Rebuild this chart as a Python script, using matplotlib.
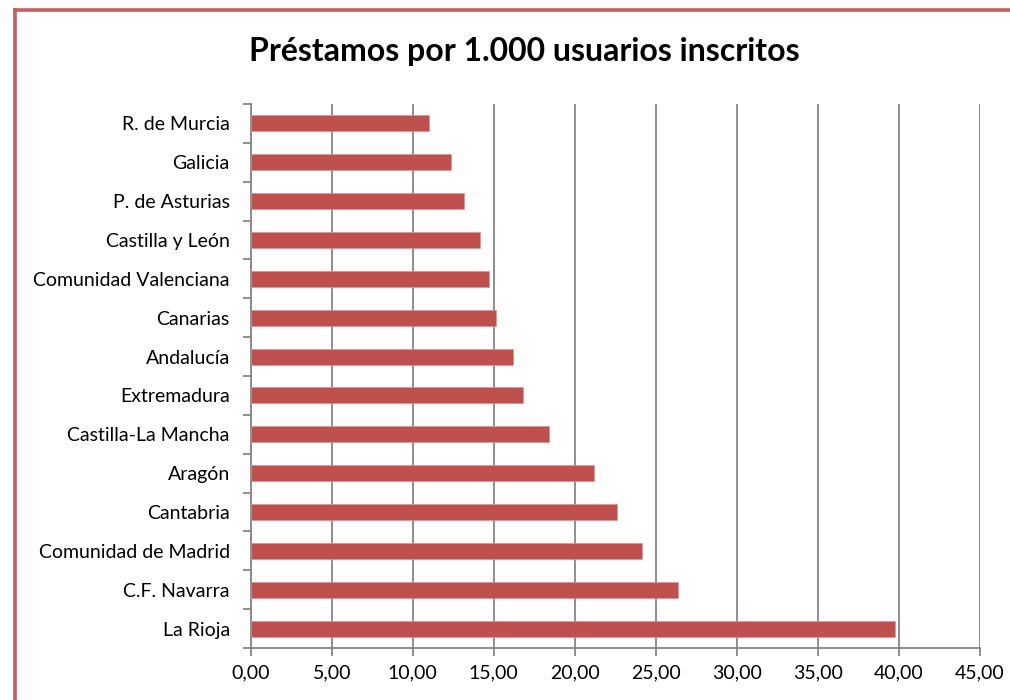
import matplotlib.pyplot as plt
from matplotlib.lines import Line2D
from matplotlib.ticker import FuncFormatter, MultipleLocator
import numpy as np

plt.rcParams['font.family'] = ['Lato', 'DejaVu Sans']

# Data (top to bottom as in the chart)
regiones = ['R. de Murcia', 'Galicia', 'P. de Asturias', 'Castilla y León',
            'Comunidad Valenciana', 'Canarias', 'Andalucía', 'Extremadura',
            'Castilla-La Mancha', 'Aragón', 'Cantabria', 'Comunidad de Madrid',
            'C.F. Navarra', 'La Rioja']
prestamos = [11.02, 12.36, 13.16, 14.17, 14.73, 15.12, 16.21, 16.80,
             18.43, 21.20, 22.60, 24.12, 26.36, 39.74]

titulo = 'Préstamos por 1.000 usuarios inscritos'
bar_color = '#C0504D'
axis_color = '#868686'

W, H = 1010, 700
fig = plt.figure(figsize=(W / 100, H / 100), dpi=100)
ax = fig.add_axes([250.7 / W, 1 - 648 / H, (980 - 250.7) / W, (648 - 104) / H])

y = np.arange(len(regiones))
ax.barh(y, prestamos, height=0.41, color=bar_color, edgecolor='#D99594', linewidth=0.5, zorder=3)

ax.set_xlim(0, 45)
ax.set_ylim(len(regiones) - 0.5, -0.5)

# x axis: ticks every 5 with comma decimals
ax.xaxis.set_major_locator(MultipleLocator(5))
ax.xaxis.set_major_formatter(FuncFormatter(lambda v, p: f'{v:.2f}'.replace('.', ',')))
ax.grid(axis='x', color=axis_color, linewidth=1.3, zorder=0)
ax.tick_params(axis='x', direction='out', length=6, width=1.3, color=axis_color,
               labelsize=14, pad=6)

# y axis: labels at centres, tick marks at band boundaries
ax.set_yticks(y)
ax.set_yticklabels(regiones)
ax.set_yticks(np.arange(len(regiones) + 1) - 0.5, minor=True)
ax.tick_params(axis='y', which='major', length=0, labelsize=14, pad=15)
ax.tick_params(axis='y', which='minor', direction='out', length=6, width=1.3, color=axis_color)

for side in ['top', 'right']:
    ax.spines[side].set_visible(False)
for side in ['left', 'bottom']:
    ax.spines[side].set_color(axis_color)
    ax.spines[side].set_linewidth(1.3)

fig.text(524 / W, 1 - 51 / H, titulo, ha='center', va='center',
         fontsize=23, fontweight='bold')

# red chart frame (left and top edges visible)
fig.add_artist(Line2D([14.5 / W, 14.5 / W], [0, 1 - 9.5 / H], color='#CD5C5C', linewidth=2.6))
fig.add_artist(Line2D([14.5 / W, 1], [1 - 9.5 / H, 1 - 9.5 / H], color='#CD5C5C', linewidth=2.6))

fig.savefig('out.png', dpi=100, facecolor='white')
